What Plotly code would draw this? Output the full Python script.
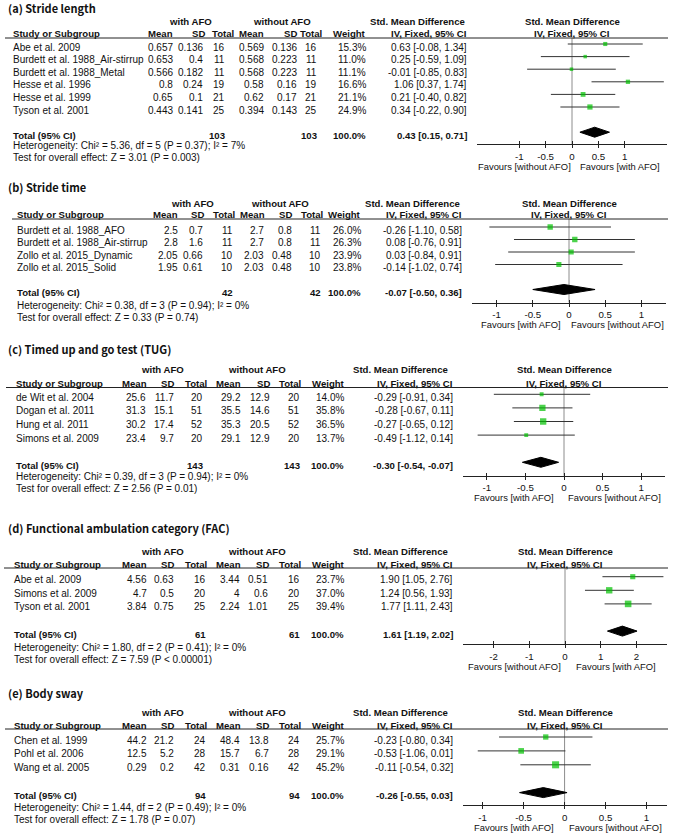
import plotly.graph_objects as go

# ------------------------------------------------------------------ data
col_headers = ["Mean", "SD", "Total", "Mean", "SD", "Total", "Weight", "IV, Fixed, 95% CI"]
group_headers = ["with AFO", "without AFO", "Std. Mean Difference"]
plot_headers = ["Std. Mean Difference", "IV, Fixed, 95% CI"]
study_header = "Study or Subgroup"
total_label = "Total (95% CI)"
total_weight = 100.0

# (a) Stride length
a_title = "(a) Stride length"
a_study = ["Abe et al. 2009", "Burdett et al. 1988_Air-stirrup", "Burdett et al. 1988_Metal",
           "Hesse et al. 1996", "Hesse et al. 1999", "Tyson et al. 2001"]
a_mean_afo = [0.657, 0.653, 0.566, 0.8, 0.65, 0.443]
a_sd_afo = [0.136, 0.4, 0.182, 0.24, 0.1, 0.141]
a_n_afo = [16, 11, 11, 19, 21, 25]
a_mean_ctl = [0.569, 0.568, 0.568, 0.58, 0.62, 0.394]
a_sd_ctl = [0.136, 0.223, 0.223, 0.16, 0.17, 0.143]
a_n_ctl = [16, 11, 11, 19, 21, 25]
a_weight = [15.3, 11.0, 11.1, 16.6, 21.1, 24.9]
a_smd = [0.63, 0.25, -0.01, 1.06, 0.21, 0.34]
a_lo = [-0.08, -0.59, -0.85, 0.37, -0.40, -0.22]
a_hi = [1.34, 1.09, 0.83, 1.74, 0.82, 0.90]
a_total_n = [103, 103]
a_total_smd = [0.43, 0.15, 0.71]
a_het = "Heterogeneity: Chi² = 5.36, df = 5 (P = 0.37); I² = 7%"
a_test = "Test for overall effect: Z = 3.01 (P = 0.003)"
a_ticks = [-1, -0.5, 0, 0.5, 1]
a_ticktext = ["-1", "-0.5", "0", "0.5", "1"]
a_favours = ["Favours [without AFO]", "Favours [with AFO]"]

# (b) Stride time
b_title = "(b) Stride time"
b_study = ["Burdett et al. 1988_AFO", "Burdett et al. 1988_Air-stirrup",
           "Zollo et al. 2015_Dynamic", "Zollo et al. 2015_Solid"]
b_mean_afo = [2.5, 2.8, 2.05, 1.95]
b_sd_afo = [0.7, 1.6, 0.66, 0.61]
b_n_afo = [11, 11, 10, 10]
b_mean_ctl = [2.7, 2.7, 2.03, 2.03]
b_sd_ctl = [0.8, 0.8, 0.48, 0.48]
b_n_ctl = [11, 11, 10, 10]
b_weight = [26.0, 26.3, 23.9, 23.8]
b_smd = [-0.26, 0.08, 0.03, -0.14]
b_lo = [-1.10, -0.76, -0.84, -1.02]
b_hi = [0.58, 0.91, 0.91, 0.74]
b_total_n = [42, 42]
b_total_smd = [-0.07, -0.50, 0.36]
b_het = "Heterogeneity: Chi² = 0.38, df = 3 (P = 0.94); I² = 0%"
b_test = "Test for overall effect: Z = 0.33 (P = 0.74)"
b_ticks = [-1, -0.5, 0, 0.5, 1]
b_ticktext = ["-1", "-0.5", "0", "0.5", "1"]
b_favours = ["Favours [with AFO]", "Favours [without AFO]"]

# (c) Timed up and go test
c_title = "(c) Timed up and go test (TUG)"
c_study = ["de Wit et al. 2004", "Dogan et al. 2011", "Hung et al. 2011", "Simons et al. 2009"]
c_mean_afo = [25.6, 31.3, 30.2, 23.4]
c_sd_afo = [11.7, 15.1, 17.4, 9.7]
c_n_afo = [20, 51, 52, 20]
c_mean_ctl = [29.2, 35.5, 35.3, 29.1]
c_sd_ctl = [12.9, 14.6, 20.5, 12.9]
c_n_ctl = [20, 51, 52, 20]
c_weight = [14.0, 35.8, 36.5, 13.7]
c_smd = [-0.29, -0.28, -0.27, -0.49]
c_lo = [-0.91, -0.67, -0.65, -1.12]
c_hi = [0.34, 0.11, 0.12, 0.14]
c_total_n = [143, 143]
c_total_smd = [-0.30, -0.54, -0.07]
c_het = "Heterogeneity: Chi² = 0.39, df = 3 (P = 0.94); I² = 0%"
c_test = "Test for overall effect: Z = 2.56 (P = 0.01)"
c_ticks = [-1, -0.5, 0, 0.5, 1]
c_ticktext = ["-1", "-0.5", "0", "0.5", "1"]
c_favours = ["Favours [with AFO]", "Favours [without AFO]"]

# (d) Functional ambulation category
d_title = "(d) Functional ambulation category (FAC)"
d_study = ["Abe et al. 2009", "Simons et al. 2009", "Tyson et al. 2001"]
d_mean_afo = [4.56, 4.7, 3.84]
d_sd_afo = [0.63, 0.5, 0.75]
d_n_afo = [16, 20, 25]
d_mean_ctl = [3.44, 4, 2.24]
d_sd_ctl = [0.51, 0.6, 1.01]
d_n_ctl = [16, 20, 25]
d_weight = [23.7, 37.0, 39.4]
d_smd = [1.90, 1.24, 1.77]
d_lo = [1.05, 0.56, 1.11]
d_hi = [2.76, 1.93, 2.43]
d_total_n = [61, 61]
d_total_smd = [1.61, 1.19, 2.02]
d_het = "Heterogeneity: Chi² = 1.80, df = 2 (P = 0.41); I² = 0%"
d_test = "Test for overall effect: Z = 7.59 (P < 0.00001)"
d_ticks = [-2, -1, 0, 1, 2]
d_ticktext = ["-2", "-1", "0", "1", "2"]
d_favours = ["Favours [without AFO]", "Favours [with AFO]"]

# (e) Body sway
e_title = "(e) Body sway"
e_study = ["Chen et al. 1999", "Pohl et al. 2006", "Wang et al. 2005"]
e_mean_afo = [44.2, 12.5, 0.29]
e_sd_afo = [21.2, 5.2, 0.2]
e_n_afo = [24, 28, 42]
e_mean_ctl = [48.4, 15.7, 0.31]
e_sd_ctl = [13.8, 6.7, 0.16]
e_n_ctl = [24, 28, 42]
e_weight = [25.7, 29.1, 45.2]
e_smd = [-0.23, -0.53, -0.11]
e_lo = [-0.80, -1.06, -0.54]
e_hi = [0.34, 0.01, 0.32]
e_total_n = [94, 94]
e_total_smd = [-0.26, -0.55, 0.03]
e_het = "Heterogeneity: Chi² = 1.44, df = 2 (P = 0.49); I² = 0%"
e_test = "Test for overall effect: Z = 1.78 (P = 0.07)"
e_ticks = [-1, -0.5, 0, 0.5, 1]
e_ticktext = ["-1", "-0.5", "0", "0.5", "1"]
e_favours = ["Favours [with AFO]", "Favours [without AFO]"]

# ------------------------------------------------------------------ layout geometry (pixels)
W, H = 676, 837
def px(x): return x / W
def py(y): return 1 - y / H

TXT = "#111111"
FONT = "Liberation Sans, Arial, sans-serif"
TFONT = "Noto Sans CJK KR, Noto Sans, sans-serif"
FS = 10
FSB = 9.6
FSA = 9.4   # axis tick labels and favours labels
GREEN = "#00c000"

geo = [
    dict(title_y=8, group_y=21, header_y=33, line_y=38, line_x0=5, row0=44, step=12.6, axis_y=144,
         het_y=146, test_y=158, x0=477, x1=667, xr=[-1.8, 1.8], name_x=12,
         col_x=[174, 204, 226, 265, 298, 318, 367, 468], hdr_x=[174, 206, 235, 265, 298, 323, 367, 468],
         grp_x=[190, 282, 417]),
    dict(title_y=187, group_y=203, header_y=214, line_y=219, line_x0=12, row0=227, step=12.5, axis_y=302.5,
         het_y=305, test_y=317, x0=472, x1=666, xr=[-1.34, 1.34], name_x=16,
         col_x=[179, 204, 234, 265, 293, 322, 362, 463], hdr_x=[179, 205, 236, 266, 293, 324, 362, 463],
         grp_x=[192, 280, 413]),
    dict(title_y=349, group_y=369, header_y=383, line_y=387.5, line_x0=6, row0=394.3, step=13.6, axis_y=475.7,
         het_y=476, test_y=488, x0=463, x1=665, xr=[-1.31, 1.31], name_x=15,
         col_x=[147, 175, 204, 242, 271, 301, 345, 454], hdr_x=[148, 175, 208, 242, 271, 302, 346, 454],
         grp_x=[162, 257, 400]),
    dict(title_y=528, group_y=551, header_y=564, line_y=568, line_x0=4, row0=576.7, step=13.6, axis_y=644,
         het_y=647, test_y=659, x0=463, x1=667, xr=[-2.86, 2.86], name_x=13,
         col_x=[148, 175, 207, 241, 269, 301, 345, 454], hdr_x=[148, 175, 208, 242, 270, 302, 346, 454],
         grp_x=[162, 257, 400]),
    dict(title_y=693, group_y=712, header_y=725, line_y=729, line_x0=5, row0=737, step=13.9, axis_y=805,
         het_y=807, test_y=819, x0=463, x1=667, xr=[-1.24, 1.25], name_x=13,
         col_x=[148, 175, 207, 241, 270, 301, 345, 454], hdr_x=[148, 175, 208, 242, 270, 302, 346, 454],
         grp_x=[162, 257, 400]),
]

panels = [
    dict(title=a_title, study=a_study, m1=a_mean_afo, s1=a_sd_afo, n1=a_n_afo, m2=a_mean_ctl, s2=a_sd_ctl,
         n2=a_n_ctl, w=a_weight, smd=a_smd, lo=a_lo, hi=a_hi, tn=a_total_n, ts=a_total_smd, het=a_het,
         test=a_test, ticks=a_ticks, ticktext=a_ticktext, fav=a_favours),
    dict(title=b_title, study=b_study, m1=b_mean_afo, s1=b_sd_afo, n1=b_n_afo, m2=b_mean_ctl, s2=b_sd_ctl,
         n2=b_n_ctl, w=b_weight, smd=b_smd, lo=b_lo, hi=b_hi, tn=b_total_n, ts=b_total_smd, het=b_het,
         test=b_test, ticks=b_ticks, ticktext=b_ticktext, fav=b_favours),
    dict(title=c_title, study=c_study, m1=c_mean_afo, s1=c_sd_afo, n1=c_n_afo, m2=c_mean_ctl, s2=c_sd_ctl,
         n2=c_n_ctl, w=c_weight, smd=c_smd, lo=c_lo, hi=c_hi, tn=c_total_n, ts=c_total_smd, het=c_het,
         test=c_test, ticks=c_ticks, ticktext=c_ticktext, fav=c_favours),
    dict(title=d_title, study=d_study, m1=d_mean_afo, s1=d_sd_afo, n1=d_n_afo, m2=d_mean_ctl, s2=d_sd_ctl,
         n2=d_n_ctl, w=d_weight, smd=d_smd, lo=d_lo, hi=d_hi, tn=d_total_n, ts=d_total_smd, het=d_het,
         test=d_test, ticks=d_ticks, ticktext=d_ticktext, fav=d_favours),
    dict(title=e_title, study=e_study, m1=e_mean_afo, s1=e_sd_afo, n1=e_n_afo, m2=e_mean_ctl, s2=e_sd_ctl,
         n2=e_n_ctl, w=e_weight, smd=e_smd, lo=e_lo, hi=e_hi, tn=e_total_n, ts=e_total_smd, het=e_het,
         test=e_test, ticks=e_ticks, ticktext=e_ticktext, fav=e_favours),
]


def fmt(v):
    return f"{v:g}"


def fmt_ci(e, lo, hi):
    return f"{e:.2f} [{lo:.2f}, {hi:.2f}]"


fig = go.Figure()
annotations = []
shapes = []
axes = {}


def ann(text, x, y, xref="paper", yref="paper", xanchor="left", bold=False, size=None, family=FONT, yshift=0):
    if size is None:
        size = FSB if bold else FS
    annotations.append(dict(
        text=f"<b>{text}</b>" if bold else text, x=x, y=y, xref=xref, yref=yref,
        xanchor=xanchor, yanchor="middle", showarrow=False, yshift=yshift,
        font=dict(family=family, size=size, color=TXT), borderpad=0))


for k, (p, g) in enumerate(zip(panels, geo)):
    n = k + 1
    xid = "x" if n == 1 else f"x{n}"
    yid = "y" if n == 1 else f"y{n}"
    xov = f"x{n + 5}"
    nrow = len(p["study"])
    rows = list(range(nrow))
    tot = nrow + 1

    # confidence interval lines
    lx, ly = [], []
    for i in rows:
        lx += [p["lo"][i], p["hi"][i], None]
        ly += [i, i, None]
    fig.add_trace(go.Scatter(x=lx, y=ly, mode="lines", line=dict(color="#333333", width=1),
                             xaxis=xid, yaxis=yid, hoverinfo="skip"))
    # study squares
    fig.add_trace(go.Scatter(x=p["smd"], y=rows, mode="markers",
                             marker=dict(symbol="square", size=[1.05 * w ** 0.5 for w in p["w"]],
                                         color=GREEN, line=dict(width=0)),
                             xaxis=xid, yaxis=yid, hoverinfo="skip"))
    # pooled diamond
    est, lo, hi = p["ts"]
    hh = 5 / g["step"]
    fig.add_trace(go.Scatter(x=[lo, est, hi, est, lo], y=[tot, tot - hh, tot, tot + hh, tot],
                             mode="lines", fill="toself", fillcolor="black",
                             line=dict(color="black", width=1), xaxis=xid, yaxis=yid, hoverinfo="skip"))
    # invisible trace for the overlay axis (inner tick halves)
    fig.add_trace(go.Scatter(x=[0], y=[0], mode="markers", marker=dict(opacity=0),
                             xaxis=xov, yaxis=yid, hoverinfo="skip"))

    dom = [px(g["x0"]), px(g["x1"])]
    axes["xaxis" if n == 1 else f"xaxis{n}"] = dict(
        domain=dom, range=g["xr"], anchor=yid, showline=True, linecolor="#222", linewidth=1,
        ticks="outside", ticklen=3, tickwidth=1, tickcolor="#222", tickvals=p["ticks"],
        ticktext=p["ticktext"], tickfont=dict(family=FONT, size=FSA + 0.3, color=TXT),
        showgrid=False, zeroline=False, fixedrange=True)
    axes[f"xaxis{n + 5}"] = dict(
        domain=dom, range=g["xr"], anchor=yid, overlaying=xid, showline=False,
        ticks="inside", ticklen=3, tickwidth=1, tickcolor="#222", tickvals=p["ticks"],
        showticklabels=False, showgrid=False, zeroline=False, fixedrange=True)
    axes["yaxis" if n == 1 else f"yaxis{n}"] = dict(
        domain=[py(g["axis_y"]), py(g["line_y"])],
        range=[(g["axis_y"] - g["row0"]) / g["step"], (g["line_y"] - g["row0"]) / g["step"]],
        visible=False, showgrid=False, zeroline=False, fixedrange=True)

    # zero line
    shapes.append(dict(type="line", xref=xid, yref=f"{yid} domain", x0=0, x1=0, y0=0, y1=1,
                       line=dict(color="#8c8c8c", width=1), layer="below"))
    # header underline
    shapes.append(dict(type="line", xref="paper", yref="paper", x0=px(g["line_x0"]), x1=px(668),
                       y0=py(g["line_y"]), y1=py(g["line_y"]), line=dict(color="#222", width=1)))

    # title
    ann(p["title"], px(7), py(g["title_y"]), bold=True, size=11, family=TFONT)
    # group headers
    for t, gx in zip(group_headers, g["grp_x"]):
        ann(t, px(gx), py(g["group_y"]), xanchor="center", bold=True)
    ann(study_header, px(g["name_x"]), py(g["header_y"]), bold=True)
    for t, hx in zip(col_headers, g["hdr_x"]):
        ann(t, px(hx), py(g["header_y"]), xanchor="right", bold=True)
    # plot headers
    pc = px((g["x0"] + g["x1"]) / 2)
    ann(plot_headers[0], pc, py(g["group_y"]), xanchor="center", bold=True)
    ann(plot_headers[1], pc, py(g["header_y"]), xanchor="center", bold=True)

    # study rows
    cx = g["col_x"]
    for i in rows:
        ann(p["study"][i], px(g["name_x"]), i, yref=yid, yshift=-3)
        vals = [fmt(p["m1"][i]), fmt(p["s1"][i]), fmt(p["n1"][i]), fmt(p["m2"][i]), fmt(p["s2"][i]),
                fmt(p["n2"][i]), f"{p['w'][i]:.1f}%", fmt_ci(p["smd"][i], p["lo"][i], p["hi"][i])]
        for v, x in zip(vals, cx):
            ann(v, px(x), i, yref=yid, xanchor="right", yshift=-3)
    # total row
    ann(total_label, px(g["name_x"]), tot, yref=yid, bold=True, yshift=-3)
    ann(fmt(p["tn"][0]), px(cx[2]), tot, yref=yid, xanchor="right", bold=True, yshift=-3)
    ann(fmt(p["tn"][1]), px(cx[5]), tot, yref=yid, xanchor="right", bold=True, yshift=-3)
    ann(f"{total_weight:.1f}%", px(cx[6]), tot, yref=yid, xanchor="right", bold=True, yshift=-3)
    ann(fmt_ci(est, lo, hi), px(cx[7]), tot, yref=yid, xanchor="right", bold=True, yshift=-3)
    # heterogeneity / overall effect
    ann(p["het"], px(g["name_x"]), py(g["het_y"]))
    ann(p["test"], px(g["name_x"]), py(g["test_y"]))
    # favours labels
    fy = py(g["axis_y"] + 22)
    ann(p["fav"][0], (g["xr"][0] + 0) / 2, fy, xref=xid, xanchor="center", size=FSA)
    ann(p["fav"][1], (0 + g["xr"][1]) / 2, fy, xref=xid, xanchor="center", size=FSA)

fig.update_layout(
    width=W, height=H, margin=dict(l=0, r=0, t=0, b=0),
    paper_bgcolor="white", plot_bgcolor="white", showlegend=False,
    annotations=annotations, shapes=shapes, **axes)

fig.write_html("out.html", config={"displayModeBar": False},
               post_script="document.body.style.margin='0px';document.body.style.padding='0px';")
